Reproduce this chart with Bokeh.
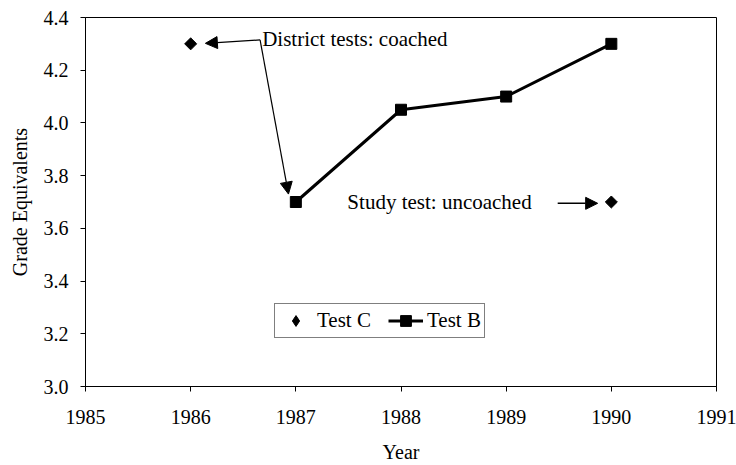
from bokeh.plotting import figure
from bokeh.models import (Range1d, FixedTicker, PrintfTickFormatter, Label, Arrow,
                          NormalHead, Legend, LegendItem)
from bokeh.embed import file_html
from bokeh.resources import INLINE
import math

# ---- data ----
test_b_years = [1987, 1988, 1989, 1990]
test_b_values = [3.70, 4.05, 4.10, 4.30]
test_c_years = [1986, 1990]
test_c_values = [4.30, 3.70]
x_ticks = [1985, 1986, 1987, 1988, 1989, 1990, 1991]
y_ticks = [3.0, 3.2, 3.4, 3.6, 3.8, 4.0, 4.2, 4.4]

# annotation anchors (data units)
coached_text = (1986.68, 4.32)
coached_arrow_tips = [(1986.14, 4.302), (1986.93, 3.73)]
uncoached_text = (1987.49, 3.70)
uncoached_arrow = [(1989.49, 3.695), (1989.87, 3.695)]

FONT = "Liberation Serif"
TICK_FS = "20px"
LABEL_FS = "20px"
ANN_FS = "21px"

p = figure(frame_width=631, frame_height=369,
           output_backend="svg", toolbar_location=None,
           x_range=Range1d(1985, 1991), y_range=Range1d(3.0, 4.4),
           min_border_left=85, min_border_right=20, min_border_top=17,
           min_border_bottom=79)
p.xgrid.visible = False
p.ygrid.visible = False
p.outline_line_color = "black"
p.outline_line_width = 1
p.background_fill_color = "white"

p.xaxis.ticker = FixedTicker(ticks=x_ticks)
p.yaxis.ticker = FixedTicker(ticks=y_ticks)
p.yaxis.formatter = PrintfTickFormatter(format="%.1f")
for ax in (p.xaxis[0], p.yaxis[0]):
    ax.axis_line_color = "black"
    ax.major_tick_line_color = "black"
    ax.major_tick_out = 5
    ax.major_tick_in = 0
    ax.minor_tick_line_color = None
    ax.major_label_text_font = FONT
    ax.major_label_text_font_size = TICK_FS
    ax.major_label_text_color = "black"
    ax.axis_label_text_font = FONT
    ax.axis_label_text_font_size = LABEL_FS
    ax.axis_label_text_font_style = "normal"
    ax.axis_label_text_color = "black"
p.xaxis.axis_label = "Year"
p.yaxis.axis_label = "Grade Equivalents"
p.xaxis.major_label_standoff = 18
p.xaxis.axis_label_standoff = 14
p.yaxis.major_label_standoff = 12
p.yaxis.axis_label_standoff = 10

# ---- data marks ----
rc = p.scatter(test_c_years, test_c_values, marker="square", angle=math.pi / 4,
               size=8.5, color="black")
rb_line = p.line(test_b_years, test_b_values, line_width=3, color="black")
rb_pts = p.scatter(test_b_years, test_b_values, marker="square", size=11, color="black")
# legend-only diamond glyph (legend markers are drawn unrotated); NaN keeps it off the plot
rc_leg = p.scatter([float("nan")], [float("nan")], marker="diamond", color="black")

# ---- annotations ----
p.add_layout(Label(x=coached_text[0], y=coached_text[1], text="District tests: coached",
                   text_font=FONT, text_font_size=ANN_FS, text_baseline="middle",
                   text_align="left", text_color="black"))
for tx, ty in coached_arrow_tips:
    p.add_layout(Arrow(x_start=coached_text[0] - 0.02, y_start=coached_text[1] - 0.005,
                       x_end=tx, y_end=ty, line_width=1.2, line_color="black",
                       end=NormalHead(size=12, fill_color="black", line_color="black")))
p.add_layout(Label(x=uncoached_text[0], y=uncoached_text[1], text="Study test: uncoached",
                   text_font=FONT, text_font_size=ANN_FS, text_baseline="middle",
                   text_align="left", text_color="black"))
p.add_layout(Arrow(x_start=uncoached_arrow[0][0], y_start=uncoached_arrow[0][1],
                   x_end=uncoached_arrow[1][0], y_end=uncoached_arrow[1][1],
                   line_width=1.5, line_color="black",
                   end=NormalHead(size=12, fill_color="black", line_color="black")))

# ---- legend ----
legend = Legend(items=[LegendItem(label="Test C", renderers=[rc_leg]),
                       LegendItem(label="Test B", renderers=[rb_line, rb_pts])],
                orientation="horizontal", location=(189, 48),
                glyph_width=35, glyph_height=27, label_standoff=4, spacing=17,
                padding=3, margin=0,
                label_text_font=FONT, label_text_font_size=ANN_FS,
                label_text_color="black",
                border_line_color="black", border_line_width=1,
                background_fill_color="white", background_fill_alpha=1)
p.add_layout(legend, "center")

open("out.html", "w").write(file_html(p, INLINE))
